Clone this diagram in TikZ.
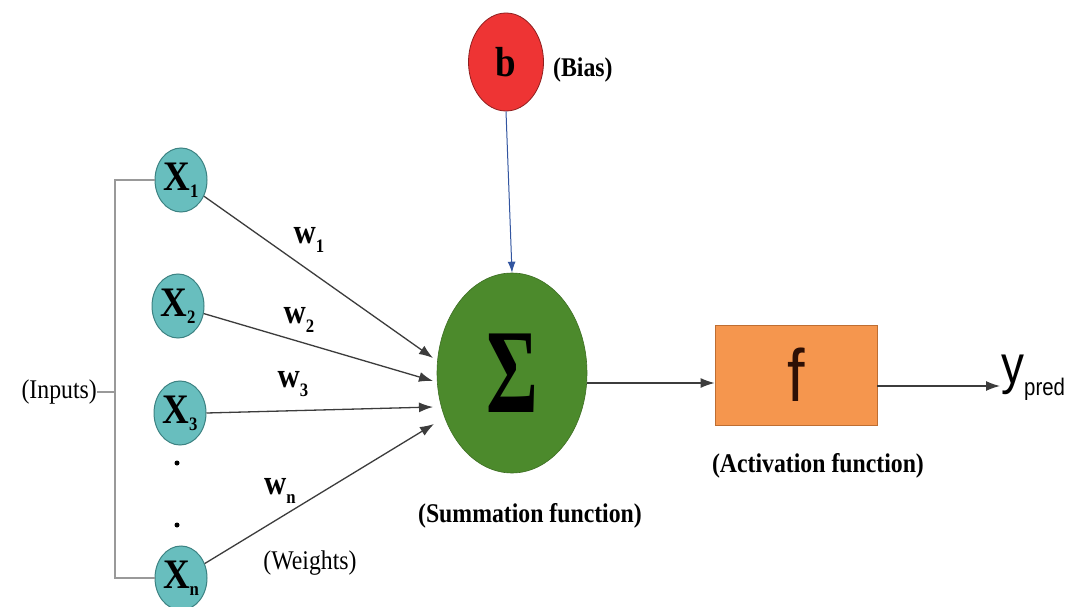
\documentclass[tikz,border=0pt]{standalone}
\usepackage{fontspec}
\setmainfont{Liberation Serif}
\newfontfamily\lab[FakeStretch=0.88]{Liberation Serif}
\newfontfamily\sans{Liberation Sans}
\usetikzlibrary{shapes.geometric,arrows.meta}
\definecolor{tealc}{RGB}{104,190,190}
\definecolor{tealb}{RGB}{60,130,130}
\definecolor{redc}{RGB}{238,52,52}
\definecolor{greenc}{RGB}{76,138,44}
\definecolor{orangec}{RGB}{245,150,78}
\definecolor{orangeb}{RGB}{190,110,50}
\definecolor{linec}{RGB}{60,60,60}
\definecolor{biasc}{RGB}{50,85,160}
\definecolor{ftext}{RGB}{45,15,5}
\tikzset{
  inp/.style={ellipse,draw=tealb,line width=1pt,fill=tealc,minimum width=52pt,minimum height=64pt,inner sep=0pt,font=\lab\bfseries\fontsize{42}{42}\selectfont},
  conn/.style={draw=linec,line width=1.3pt,-{Latex[length=14pt,width=10pt]}},
  lbl/.style={font=\lab\fontsize{27}{30}\selectfont,inner sep=0pt},
  blbl/.style={font=\lab\bfseries\fontsize{27}{30}\selectfont,inner sep=0pt},
  wl/.style={font=\lab\bfseries\fontsize{35}{35}\selectfont,inner sep=0pt},
  brk/.style={draw=gray!80,line width=1.3pt},
  dotn/.style={circle,fill=black,inner sep=0pt,minimum size=5pt}
}
\newcommand{\sub}[2][-7pt]{\raisebox{#1}{\fontsize{19}{19}\selectfont #2}}
\begin{document}
\begin{tikzpicture}[x=1pt,y=-1pt]
\useasboundingbox[fill=white] (0,0) rectangle (1074,607);
% inputs
\node[inp] (x1) at (181,180) {X\sub{1}};
\node[inp] (x2) at (178,306) {X\sub{2}};
\node[inp] (x3) at (180,413) {X\sub{3}};
\node[inp] (xn) at (181,578) {X\sub{n}};
\node[dotn] (d1) at (177,463) {};
\node[dotn] (d2) at (177,525) {};
\node[lbl,anchor=east] (inputs) at (97,392) {(Inputs)};
\coordinate (btop) at (115,180);
\coordinate (bbot) at (115,578);
\draw[brk] (x1.west) -- (btop) -- (bbot) -- (xn.west);
\draw[brk] (inputs.east) -- (inputs.east -| btop);
% summation
\node[ellipse,fill=greenc,draw=greenc!80!black,line width=0.6pt,minimum width=150pt,minimum height=200pt,inner sep=0pt] (sum) at (512,373) {\raisebox{-4pt}{\scalebox{0.66}[1]{\fontsize{120}{120}\selectfont\bfseries Σ}}};
\node[blbl] (sumlbl) at (530,516) {(Summation function)};
% bias
\node[ellipse,fill=redc,draw=redc!60!black,line width=0.8pt,minimum width=75pt,minimum height=98pt,inner sep=0pt,font=\lab\bfseries\fontsize{42}{42}\selectfont] (b) at (506,62) {b};
\node[blbl,anchor=west] (bias) at (553,70) {(Bias)};
\draw[draw=biasc,line width=1pt,-{Latex[length=11pt,width=8pt]}] (b.south) -- (sum.north);
% weights
\coordinate (t1) at (433,358);
\coordinate (t2) at (433,381);
\coordinate (t3) at (433,407);
\coordinate (t4) at (434,424);
\draw[conn] (x1) -- (t1);
\draw[conn] (x2) -- (t2);
\draw[conn] (x3.east) -- (t3);
\draw[conn] (xn) -- (t4);
\node[wl] (w1) at (309,240) {w\sub[-9pt]{1}};
\node[wl] (w2) at (299,320) {w\sub[-9pt]{2}};
\node[wl] (w3) at (293,384) {w\sub[-9pt]{3}};
\node[wl] (wn) at (280,491) {w\sub[-9pt]{n}};
\node[lbl] (weights) at (310,563) {(Weights)};
% activation
\node[rectangle,fill=orangec,draw=orangeb,line width=0.8pt,minimum width=162pt,minimum height=100pt,inner sep=0pt,text=ftext,font=\sans\fontsize{74}{74}\selectfont] (f) at (796,375) {\scalebox{0.85}[1]{f}};
\node[blbl] (actlbl) at (818,466) {(Activation function)};
\draw[conn] (sum.east |- 0,383) -- (f.west |- 0,383);
\coordinate (yend) at (1000,386);
\draw[conn] (f.east |- yend) -- (yend);
\node[anchor=west,inner sep=0pt,font=\sans\fontsize{54}{54}\selectfont] (y) at (1001,378) {\scalebox{0.85}[1]{y}\raisebox{-12pt}{\scalebox{0.85}[1]{\fontsize{24}{24}\selectfont pred}}};
\end{tikzpicture}
\end{document}
